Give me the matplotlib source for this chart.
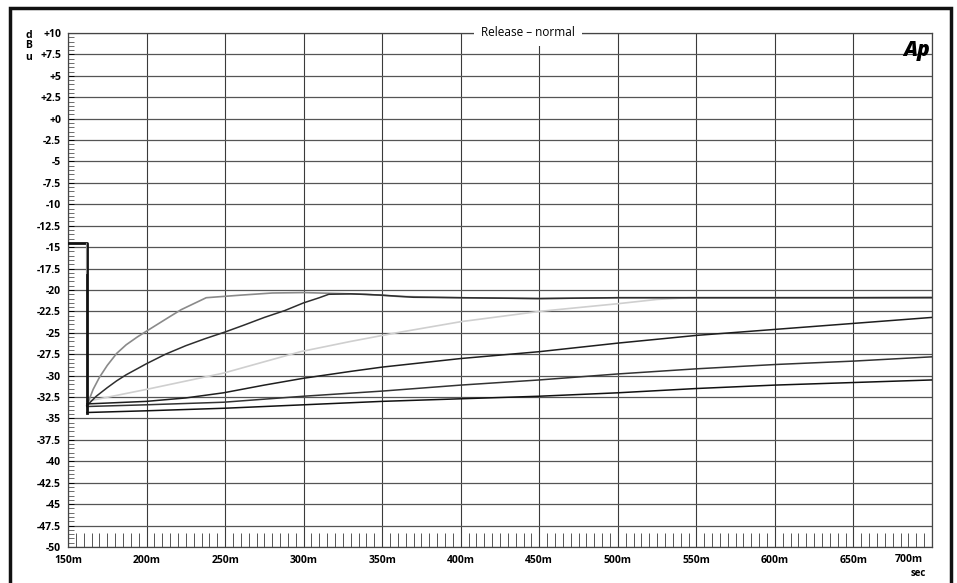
import matplotlib
matplotlib.use("Agg")
import matplotlib.pyplot as plt
from matplotlib.patches import Rectangle
from matplotlib.ticker import MultipleLocator, FixedLocator

plt.rcParams['font.family'] = ['Open Sans', 'DejaVu Sans']

# time in ms, level in dBu
pulse_t = [150, 162, 162]
pulse_db = [-14.5, -14.5, -34.4]
tail_t = [161.5, 161.5]
tail_db = [-14.5, -18.0]

a_t = [162, 166, 170, 175, 181, 187, 194, 200, 207, 214, 222, 230, 238, 260, 280, 300, 320, 340, 360,
       400, 450, 500, 550, 600, 650, 700]
a_db = [-33.5, -31.6, -30.2, -28.8, -27.4, -26.4, -25.5, -24.8, -24.0, -23.2, -22.3, -21.6, -20.9, -20.6,
        -20.35, -20.3, -20.4, -20.5, -20.75, -20.9, -21.0, -20.9, -20.9, -20.9, -20.9, -20.85]

b_t = [162, 168, 175, 181, 187, 194, 200, 212, 225, 237, 250, 262, 275, 288, 300, 310, 316, 330, 350, 370,
       400, 450, 500, 600, 700]
b_db = [-33.5, -32.4, -31.4, -30.6, -29.9, -29.2, -28.6, -27.5, -26.5, -25.7, -24.9, -24.1, -23.2, -22.4,
        -21.5, -20.9, -20.5, -20.45, -20.6, -20.85, -20.9, -21.0, -20.9, -20.9, -20.9]

c_t = [162, 200, 249, 298, 330, 359, 400, 450, 500, 525, 545, 600, 700]
c_db = [-33.0, -31.6, -29.7, -27.2, -26.0, -25.0, -23.7, -22.5, -21.6, -21.1, -20.9, -20.9, -20.9]

d_t = [162, 200, 225, 249, 275, 300, 330, 350, 400, 450, 500, 550, 600, 650, 700]
d_db = [-33.3, -33.0, -32.6, -32.0, -31.1, -30.3, -29.5, -29.0, -28.0, -27.2, -26.2, -25.3, -24.6, -23.9, -23.2]

e_t = [162, 200, 249, 300, 350, 400, 450, 500, 550, 600, 650, 700]
e_db = [-33.6, -33.4, -33.1, -32.4, -31.8, -31.1, -30.5, -29.8, -29.2, -28.7, -28.3, -27.8]

f_t = [162, 200, 250, 300, 350, 400, 450, 500, 550, 600, 650, 700]
f_db = [-34.3, -34.1, -33.8, -33.4, -33.0, -32.7, -32.4, -32.0, -31.5, -31.1, -30.8, -30.5]

x_ticks = [150, 200, 250, 300, 350, 400, 450, 500, 550, 600, 650, 700]
x_labels = ["150m", "200m", "250m", "300m", "350m", "400m", "450m", "500m", "550m", "600m", "650m", "700m"]
y_ticks = [10, 7.5, 5, 2.5, 0, -2.5, -5, -7.5, -10, -12.5, -15, -17.5, -20, -22.5, -25, -27.5,
           -30, -32.5, -35, -37.5, -40, -42.5, -45, -47.5, -50]
y_labels = ["+10", "+7.5", "+5", "+2.5", "+0", "-2.5", "-5", "-7.5", "-10", "-12.5", "-15", "-17.5", "-20",
            "-22.5", "-25", "-27.5", "-30", "-32.5", "-35", "-37.5", "-40", "-42.5", "-45", "-47.5", "-50"]

W, H = 957, 583
fig = plt.figure(figsize=(W / 100, H / 100), dpi=100)
ax = fig.add_axes([68 / W, (H - 547) / H, 864 / W, 514 / H])

# grid
for t in x_ticks:
    ax.axvline(t, color="#3a3a3a", lw=0.8, zorder=1)
for v in y_ticks:
    ax.axhline(v, color="#555555", lw=0.9, zorder=1)

# traces
ax.plot(a_t, a_db, color="#8a8a8a", lw=1.2, zorder=3)
ax.plot(b_t, b_db, color="#2e2e2e", lw=1.1, zorder=3)
ax.plot(c_t, c_db, color="#cfcfcf", lw=1.2, zorder=2)
ax.plot(d_t, d_db, color="#1e1e1e", lw=1.1, zorder=3)
ax.plot(e_t, e_db, color="#333333", lw=1.1, zorder=3)
ax.plot(f_t, f_db, color="#111111", lw=1.1, zorder=3)
ax.plot(pulse_t, pulse_db, color="#111111", lw=2.0, zorder=4)
ax.plot(tail_t, tail_db, color="#888888", lw=0.8, zorder=4)

ax.set_xlim(150, 700)
ax.set_ylim(-50, 10)

ax.xaxis.set_major_locator(FixedLocator(x_ticks))
ax.set_xticklabels(x_labels[:-1] + [""])
ax.xaxis.set_minor_locator(MultipleLocator(5))
ax.yaxis.set_major_locator(FixedLocator(y_ticks))
ax.set_yticklabels(y_labels)
ax.yaxis.set_minor_locator(MultipleLocator(0.5))

ax.tick_params(axis="x", which="major", direction="in", length=0, pad=6, labelsize=7.5)
ax.tick_params(axis="x", which="minor", direction="in", length=10, width=0.7, color="#555555")
ax.tick_params(axis="y", which="major", direction="in", length=4, width=0.7, pad=5, labelsize=7.5)
ax.tick_params(axis="y", which="minor", direction="in", length=4, width=0.6, color="#555555")
for lab in ax.get_xticklabels() + ax.get_yticklabels():
    lab.set_fontweight("bold")

# last x label sits left of its tick, with the unit below
fig.text(909 / W, 1 - 560 / H, x_labels[-1], ha="center", va="center", fontsize=7.5, fontweight="bold")
fig.text(926 / W, 1 - 573 / H, "sec", ha="right", va="center", fontsize=7, fontweight="bold")

for s in ax.spines.values():
    s.set_color("#444444")
    s.set_linewidth(0.9)

# title sits on the top border, a little right of centre
ax.text((528 - 68) / 864, 1.0, "Release \u2013 normal", transform=ax.transAxes, ha="center", va="center",
        fontsize=8.5, zorder=6, bbox=dict(facecolor="white", edgecolor="none", pad=5))
ax.text(0.998, 0.965, "Ap", transform=ax.transAxes, ha="right", va="center", fontsize=15,
        fontweight="heavy", fontstyle="italic", zorder=6)

for ch, yy in zip("dBu", [35, 46, 57]):
    fig.text(29 / W, 1 - yy / H, ch, ha="center", va="center", fontsize=7.5, fontweight="bold")

# outer frame
fig.patches.append(Rectangle((10 / W, -0.02), 941 / W, 1.02 - 8 / H, transform=fig.transFigure,
                             fill=False, edgecolor="#111111", lw=2.5))

fig.savefig("out.png", dpi=100)
